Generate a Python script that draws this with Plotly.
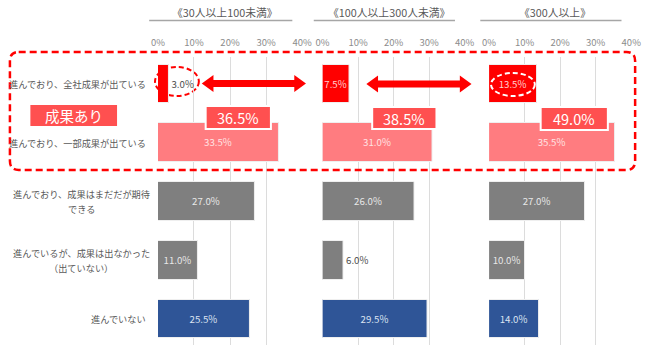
import plotly.graph_objects as go

# ---------------- data ----------------
categories = [
    "進んでおり、全社成果が出ている",
    "進んでおり、一部成果が出ている",
    "進んでおり、成果はまだだが期待<br>できる",
    "進んでいるが、成果は出なかった<br>（出ていない）",
    "進んでいない",
]
groups = ["《30人以上100未満》", "《100人以上300人未満》", "《300人以上》"]
v_30_100 = [3.0, 33.5, 27.0, 11.0, 25.5]
v_100_300 = [7.5, 31.0, 26.0, 6.0, 29.5]
v_300 = [13.5, 35.5, 27.0, 10.0, 14.0]
tick_vals = [0, 10, 20, 30, 40]
tick_text = ["0%", "10%", "20%", "30%", "40%"]
highlight_label = "成果あり"

series = [v_30_100, v_100_300, v_300]

# ---------------- styles ----------------
W, H = 650, 345
FONT = "Noto Sans CJK JP"
bar_colors = ["#FF0000", "#FF7C80", "#7F7F7F", "#7F7F7F", "#2F5597"]
inside_text_colors = ["#FFD0D0", "#FFE3E3", "#E8E8E8", "#E8E8E8", "#DCE4F2"]
outside_text_color = "#4D4D4D"
box_fill = "#FF5050"
panel_px = [(155, 303), (324, 470), (495, 641)]
LABEL_SIZE = 9.2
ROW_PX = 58.8


def px(x):
    return x / W


def py(y):
    return 1 - y / H


fig = go.Figure()
ypos = list(range(len(categories)))

for k, vals in enumerate(series):
    axname = "x" if k == 0 else f"x{k + 1}"
    positions = ["outside" if v <= 6 else "inside" for v in vals]
    tcolors = [outside_text_color if p == "outside" else inside_text_colors[i]
               for i, p in enumerate(positions)]
    fig.add_trace(go.Bar(
        x=vals, y=ypos, orientation="h",
        xaxis=axname, yaxis="y",
        width=0.655,
        marker=dict(color=bar_colors, line=dict(color="#EFEFEF", width=1)),
        text=[f"{v:.1f}%" for v in vals],
        textposition=positions,
        textangle=0,
        insidetextanchor="middle",
        textfont=dict(family=FONT, size=9.7, color=tcolors),
        constraintext="none",
        cliponaxis=False,
        showlegend=False,
        hoverinfo="skip",
    ))

layout_axes = {}
for k, (a, b) in enumerate(panel_px):
    key = "xaxis" if k == 0 else f"xaxis{k + 1}"
    layout_axes[key] = dict(
        domain=[px(a), px(b)], range=[0, 40], side="top", anchor="y",
        tickvals=tick_vals, ticktext=tick_text,
        tickfont=dict(family=FONT, size=9.5, color="#8C8C8C"),
        showgrid=True, gridcolor="#DCDCDC", gridwidth=1,
        zeroline=False, showline=False, ticks="",
        ticklabelstandoff=8, fixedrange=True,
    )

fig.update_layout(
    width=W, height=H,
    margin=dict(l=0, r=0, t=0, b=0),
    paper_bgcolor="white", plot_bgcolor="white",
    yaxis=dict(domain=[0, py(57)], range=[4.442, -0.459], visible=False,
               anchor="x", fixedrange=True),
    bargap=0,
    **layout_axes,
)

shapes = []
annotations = []

# category labels (first line right-aligned, following lines centred under it)
for i, c in enumerate(categories):
    lines = c.split("<br>")
    if len(lines) == 1:
        annotations.append(dict(
            x=px(145), xref="paper", y=i, yref="y", text=c, showarrow=False,
            xanchor="right", yanchor="middle",
            font=dict(family=FONT, size=LABEL_SIZE, color="#595959"),
        ))
    else:
        first_w = len(lines[0]) * LABEL_SIZE
        cx = 145 - first_w / 2
        n = len(lines)
        for j, ln in enumerate(lines):
            off = (j - (n - 1) / 2) * 14.5 / ROW_PX
            annotations.append(dict(
                x=px(cx), xref="paper", y=i + off, yref="y", text=ln,
                showarrow=False, xanchor="center", yanchor="middle",
                font=dict(family=FONT, size=LABEL_SIZE, color="#595959"),
            ))

# group titles with underlines
for k, (a, b) in enumerate(panel_px):
    cx = (a + b) / 2
    annotations.append(dict(
        x=px(cx - 5), xref="paper", y=py(12), yref="paper", text=groups[k],
        showarrow=False, xanchor="center", yanchor="middle",
        font=dict(family=FONT, size=10.8, color="#595959"),
    ))
    shapes.append(dict(type="line", xref="paper", yref="paper",
                       x0=px(a - 9), x1=px(b - 10), y0=py(20.5), y1=py(20.5),
                       line=dict(color="#A6A6A6", width=1.5)))

# dashed rounded rectangle around the "成果あり" rows
x0, x1, y0, y1, r = 3, 645, 52, 170, 9
pts = (f"M {px(x0 + r)},{py(y0)} L {px(x1 - r)},{py(y0)} "
       f"Q {px(x1)},{py(y0)} {px(x1)},{py(y0 + r)} "
       f"L {px(x1)},{py(y1 - r)} Q {px(x1)},{py(y1)} {px(x1 - r)},{py(y1)} "
       f"L {px(x0 + r)},{py(y1)} Q {px(x0)},{py(y1)} {px(x0)},{py(y1 - r)} "
       f"L {px(x0)},{py(y0 + r)} Q {px(x0)},{py(y0)} {px(x0 + r)},{py(y0)} Z")
shapes.append(dict(type="path", xref="paper", yref="paper", path=pts,
                   line=dict(color="#FF0000", width=2.5, dash="7px,4px"),
                   layer="above"))

# red dashed ellipse around 3.0%
shapes.append(dict(type="circle", xref="paper", yref="paper",
                   x0=px(152), x1=px(197), y0=py(96), y1=py(67),
                   line=dict(color="#FF0000", width=2, dash="5px,3px"),
                   layer="between"))
# white dashed ellipse around 13.5%
shapes.append(dict(type="circle", xref="paper", yref="paper",
                   x0=px(497), x1=px(542), y0=py(96), y1=py(73),
                   line=dict(color="#FFFFFF", width=2, dash="5px,3px"),
                   layer="above"))


def darrow(xa, xb, yc, hl=12, hh=8.5, st=3.5):
    p = [(xa, yc), (xa + hl, yc - hh), (xa + hl, yc - st), (xb - hl, yc - st),
         (xb - hl, yc - hh), (xb, yc), (xb - hl, yc + hh), (xb - hl, yc + st),
         (xa + hl, yc + st), (xa + hl, yc + hh)]
    return "M " + " L ".join(f"{px(x)},{py(y)}" for x, y in p) + " Z"


for xa, xb, yc in [(200, 307, 83.5), (369, 477, 84)]:
    shapes.append(dict(type="path", xref="paper", yref="paper",
                       path=darrow(xa, xb, yc), fillcolor="#FF0000",
                       line=dict(width=0), layer="above"))

# summed boxes
box_px = [(204, 271, 106, 129), (375, 441, 107, 129), (548, 617, 107, 130)]
for k, (bx0, bx1, by0, by1) in enumerate(box_px):
    total = series[k][0] + series[k][1]
    shapes.append(dict(type="rect", xref="paper", yref="paper",
                       x0=px(bx0), x1=px(bx1), y0=py(by1), y1=py(by0),
                       fillcolor=box_fill, line=dict(color="#FFFFFF", width=2),
                       layer="above"))
    annotations.append(dict(
        x=px((bx0 + bx1) / 2), xref="paper", y=py((by0 + by1) / 2), yref="paper",
        text=f"{total:.1f}%", showarrow=False, xanchor="center", yanchor="middle",
        font=dict(family=FONT, size=14.5, color="#FFFFFF"),
    ))

# "成果あり" box
shapes.append(dict(type="rect", xref="paper", yref="paper",
                   x0=px(24), x1=px(113), y0=py(126), y1=py(105),
                   fillcolor=box_fill, line=dict(width=0), layer="above"))
annotations.append(dict(
    x=px(68.5), xref="paper", y=py(115.5), yref="paper", text=highlight_label,
    showarrow=False, xanchor="center", yanchor="middle",
    font=dict(family=FONT, size=14.5, color="#FFFFFF"),
))

fig.update_layout(shapes=shapes, annotations=annotations)
fig.write_html("out.html")
